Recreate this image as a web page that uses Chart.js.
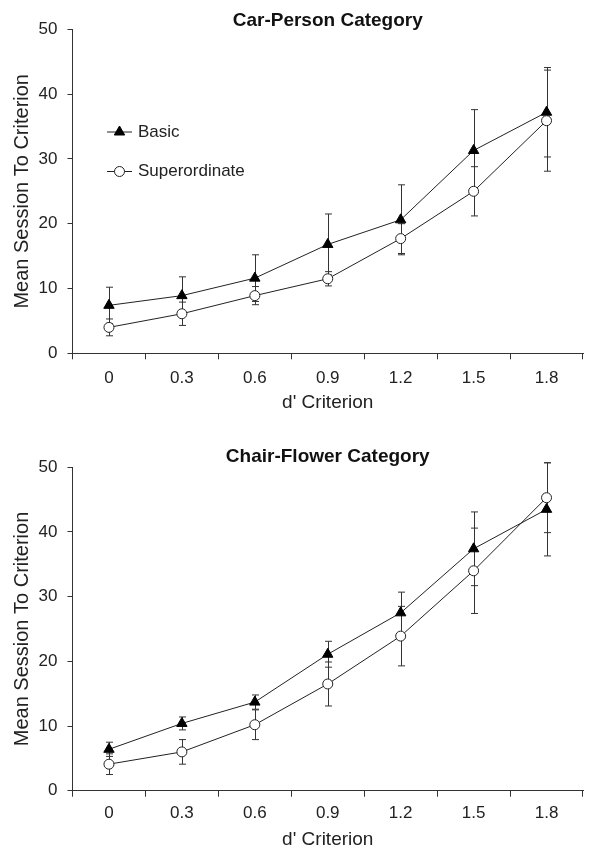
<!DOCTYPE html>
<html><head><meta charset="utf-8">
<script src="https://cdn.jsdelivr.net/npm/chart.js@4.4.1/dist/chart.umd.min.js"></script>
<style>
html,body{margin:0;padding:0;background:#fff;}
#wrap{width:606px;height:850px;position:relative;overflow:hidden;}
canvas{display:block;}
</style></head><body>
<div id="wrap">
<canvas id="c1" width="606" height="420"></canvas>
<canvas id="c2" width="606" height="430"></canvas>
</div>
<script>
// ---- data ----
const categories = ['0', '0.3', '0.6', '0.9', '1.2', '1.5', '1.8'];
const yTicks = [0, 10, 20, 30, 40, 50];
const seriesNames = ['Basic', 'Superordinate'];
const chartTitles = ['Car-Person Category', 'Chair-Flower Category'];
const xTitle = "d' Criterion";
const yTitle = 'Mean Session To Criterion';

const carBasic = [7.4, 8.9, 11.6, 16.8, 20.6, 31.3, 37.2];
const carBasicErr = [2.8, 2.9, 3.6, 4.7, 5.4, 6.3, 6.9];
const carSuper = [4.0, 6.1, 8.9, 11.5, 17.7, 25.0, 35.9];
const carSuperErr = [1.3, 1.8, 1.4, 1.1, 2.3, 3.8, 7.8];

const chairBasic = [6.4, 10.4, 13.7, 21.1, 27.5, 37.4, 43.5];
const chairBasicErr = [1.1, 1.0, 1.1, 2.0, 3.2, 5.7, 7.2];
const chairSuper = [4.1, 6.0, 10.2, 16.5, 23.9, 34.0, 45.3];
const chairSuperErr = [1.6, 1.9, 2.3, 3.4, 4.6, 6.6, 5.4];

// ---- styling ----
const FONT = "'Liberation Sans', Arial, Helvetica, sans-serif";
Chart.defaults.font.family = FONT;
Chart.defaults.color = '#222';
const INK = '#222';
const AXIS = '#333';

const errorBars = {
  id: 'errorBars',
  beforeDatasetsDraw(chart) {
    const {ctx, scales: {x, y}} = chart;
    ctx.save();
    ctx.strokeStyle = '#333';
    ctx.lineWidth = 1;
    chart.data.datasets.forEach(ds => {
      if (!ds.errors) return;
      ds.data.forEach((v, i) => {
        const e = ds.errors[i];
        const px = Math.round(x.getPixelForValue(i)) + 0.5;
        const yT = y.getPixelForValue(v + e);
        const yB = y.getPixelForValue(v - e);
        ctx.beginPath();
        ctx.moveTo(px, yT); ctx.lineTo(px, yB);
        ctx.moveTo(px - 3.5, yT); ctx.lineTo(px + 3.5, yT);
        ctx.moveTo(px - 3.5, yB); ctx.lineTo(px + 3.5, yB);
        ctx.stroke();
      });
    });
    ctx.restore();
  }
};

const insideLegend = {
  id: 'insideLegend',
  afterDraw(chart, args, opts) {
    if (!opts || !opts.display) return;
    const ctx = chart.ctx;
    chart.data.datasets.forEach((ds, i) => {
      const y = opts.y + i * opts.gap;
      const cx = opts.x + opts.lineLen / 2;
      ctx.save();
      ctx.strokeStyle = ds.borderColor;
      ctx.lineWidth = 1;
      ctx.beginPath();
      ctx.moveTo(opts.x, y); ctx.lineTo(opts.x + opts.lineLen, y);
      ctx.stroke();
      ctx.fillStyle = ds.pointBackgroundColor;
      ctx.strokeStyle = ds.pointBorderColor;
      ctx.lineWidth = ds.pointBorderWidth;
      if (Chart.helpers && Chart.helpers.drawPoint) {
        Chart.helpers.drawPoint(ctx, {pointStyle: ds.pointStyle, radius: ds.pointRadius, borderWidth: ds.pointBorderWidth, rotation: 0}, cx, y);
      }
      ctx.fillStyle = INK;
      ctx.font = '17px ' + FONT;
      ctx.textBaseline = 'middle';
      ctx.textAlign = 'left';
      ctx.fillText(ds.label, opts.x + opts.lineLen + opts.textGap, y);
      ctx.restore();
    });
  }
};

function makeChart(id, title, basic, basicErr, sup, supErr, L) {
  return new Chart(document.getElementById(id), {
    type: 'line',
    data: {
      labels: categories,
      datasets: [
        {
          label: seriesNames[0], data: basic, errors: basicErr, order: 1,
          borderColor: INK, borderWidth: 1, tension: 0,
          pointStyle: 'triangle', pointRadius: 6, pointHoverRadius: 6,
          pointBackgroundColor: '#000', pointBorderColor: '#000', pointBorderWidth: 1
        },
        {
          label: seriesNames[1], data: sup, errors: supErr, order: 0,
          borderColor: INK, borderWidth: 1, tension: 0,
          pointStyle: 'circle', pointRadius: 5, pointHoverRadius: 5,
          pointBackgroundColor: '#fff', pointBorderColor: INK, pointBorderWidth: 1
        }
      ]
    },
    options: {
      responsive: false,
      animation: false,
      events: [],
      layout: {padding: {top: 0, left: 0, right: 23, bottom: 0}},
      plugins: {
        legend: {display: false},
        tooltip: {enabled: false},
        title: {
          display: true, text: title, color: '#111', fullSize: false,
          font: {size: 19, weight: 'bold', family: FONT},
          padding: L.titlePad
        },
        insideLegend: L.legend
      },
      scales: {
        x: {
          type: 'category', offset: true,
          grid: {offset: true, drawOnChartArea: false, drawTicks: true, tickLength: 6, color: AXIS},
          border: {display: true, color: AXIS, width: 1},
          ticks: {font: {size: 17}, color: INK, padding: L.xTickPad, maxRotation: 0, autoSkip: false},
          title: {display: true, text: xTitle, color: INK, font: {size: 19}, padding: {top: 0, bottom: L.xTitlePad}},
          afterFit: s => { s.height = L.xHeight; }
        },
        y: {
          min: yTicks[0], max: yTicks[yTicks.length - 1],
          afterBuildTicks: s => { s.ticks = yTicks.map(v => ({value: v})); },
          grid: {drawOnChartArea: false, drawTicks: true, tickLength: 5, color: AXIS},
          border: {display: true, color: AXIS, width: 1},
          ticks: {font: {size: 17}, color: INK, padding: 10},
          title: {display: true, text: yTitle, color: INK, font: {size: 20}, padding: {top: 10, bottom: 0}},
          afterFit: s => { s.width = 72.5; }
        }
      }
    },
    plugins: [errorBars, insideLegend]
  });
}

makeChart('c1', chartTitles[0], carBasic, carBasicErr, carSuper, carSuperErr, {
  titlePad: {top: 9, bottom: -2.5}, xHeight: 66.7, xTickPad: 9, xTitlePad: 6,
  legend: {display: true, x: 107, y: 132, gap: 39.5, lineLen: 25, textGap: 6}
});
makeChart('c2', chartTitles[1], chairBasic, chairBasicErr, chairSuper, chairSuperErr, {
  titlePad: {top: 25.3, bottom: -0.8}, xHeight: 59.3, xTickPad: 6, xTitlePad: -1,
  legend: {display: false}
});
</script>
</body></html>
